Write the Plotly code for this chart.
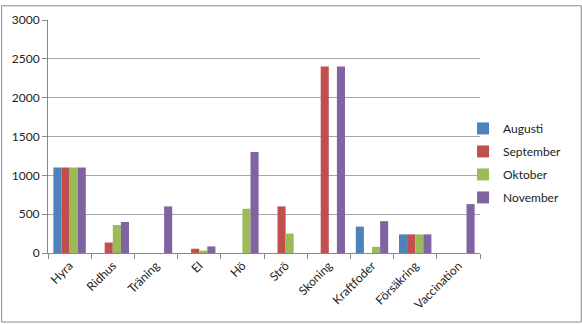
import plotly.graph_objects as go

categories = ["Hyra", "Ridhus", "Träning", "El", "Hö", "Strö", "Skoning", "Kraftfoder", "Försäkring", "Vaccination"]
series_names = ["Augusti", "September", "Oktober", "November"]
augusti   = [1100, 0, 0, 0, 0, 0, 0, 340, 240, 0]
september = [1100, 135, 0, 55, 0, 600, 2400, 0, 240, 0]
oktober   = [1100, 360, 0, 30, 570, 250, 0, 80, 240, 0]
november  = [1100, 400, 600, 85, 1300, 0, 2400, 410, 240, 630]
colors = ["#4F81BD", "#C0504D", "#9BBB59", "#8064A2"]
y_ticks = [0, 500, 1000, 1500, 2000, 2500, 3000]

fig = go.Figure()
for name, vals, col in zip(series_names, [augusti, september, oktober, november], colors):
    fig.add_trace(go.Bar(x=categories, y=vals, name=name, legendgroup=name,
                         marker=dict(color=col, line=dict(width=0))))

L, R, T, B = 47, 102, 15, 71
W, H = 582, 324
pw, ph = W - L - R, H - T - B

fig.update_layout(
    width=W, height=H,
    margin=dict(l=L, r=R, t=T, b=B),
    paper_bgcolor="white", plot_bgcolor="white",
    barmode="group", bargap=0.25, bargroupgap=0,
    font=dict(family="Lato, Liberation Sans, sans-serif", size=12, color="#222"),
    legend=dict(x=(463 - L) / pw, y=(T + ph - 161) / ph, xanchor="left", yanchor="middle",
                font=dict(size=12), tracegroupgap=4, itemwidth=30, bgcolor="rgba(0,0,0,0)"),
    showlegend=True,
    xaxis=dict(type="category", tickangle=-45, showline=True, linecolor="#888", linewidth=1,
               ticks="outside", tickson="boundaries", ticklen=5, tickcolor="#888",
               showgrid=False, tickfont=dict(size=12)),
    yaxis=dict(range=[0, 3000], tickvals=y_ticks, showline=True, linecolor="#888", linewidth=1,
               ticks="outside", ticklen=5, tickcolor="#888", gridcolor="#A6A6A6", gridwidth=1,
               zeroline=False, tickfont=dict(size=12)),
    shapes=[dict(type="rect", xref="paper", yref="paper",
                 x0=(0.5 - L) / pw, x1=(W - 0.5 - L) / pw,
                 y0=(T + ph - (H - 0.5)) / ph, y1=(T + ph - 0.5) / ph,
                 line=dict(color="#888", width=1), fillcolor="rgba(0,0,0,0)")],
)

fig.write_html("out.html")
